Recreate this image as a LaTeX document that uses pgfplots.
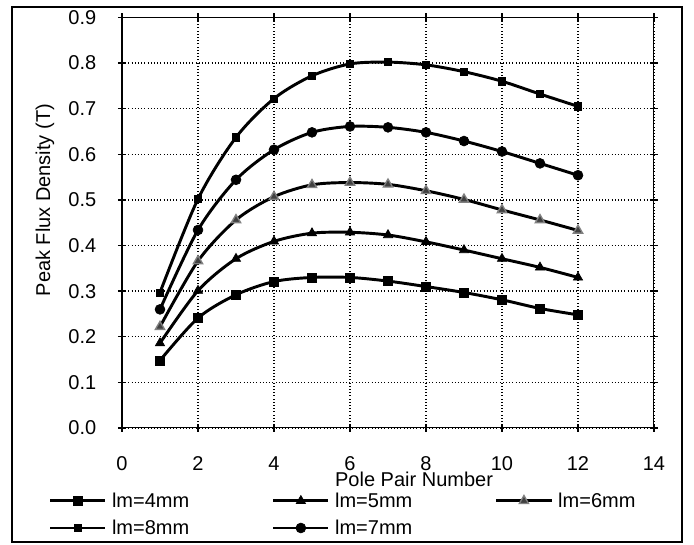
\documentclass[border=0pt]{standalone}
\usepackage{fontspec}
\setmainfont{Liberation Sans}
\usepackage{pgfplots}
\pgfplotsset{compat=1.18}

\begin{document}
\begin{tikzpicture}[font=\fontsize{15}{18}\selectfont]
\useasboundingbox (-91.5pt,-87.75pt) rectangle (429pt,321pt);
\begin{axis}[
    scale only axis,
    width=399pt,
    height=307.95pt,
    xmin=0, xmax=14,
    ymin=0, ymax=0.9,
    xtick={0,2,...,14},
    ytick={0,0.1,...,0.9},
    /pgf/number format/assume math mode=true,
    yticklabel style={xshift=-12.75pt,
        /pgf/number format/fixed,
        /pgf/number format/fixed zerofill,
        /pgf/number format/precision=1},
    xticklabel style={yshift=-15pt},
    tick align=center,
    major tick length=6pt,
    tick style={black, line width=1pt},
    axis line style={line width=0.75pt},
    grid=major,
    major grid style={black, dotted, line width=1.1pt},
    xlabel={Pole Pair Number},
    xlabel style={at={(axis description cs:0.549,-0.1413)}, anchor=base},
    ylabel={Peak Flux Density (T)},
    ylabel style={at={(axis description cs:-0.1447,0.555)}, anchor=center},
    legend columns=3,
    legend cell align=left,
    legend style={
        at={(axis description cs:-0.138,-0.1437)}, anchor=north west,
        draw=none, fill=none, inner sep=0pt,
        nodes={inner sep=4pt},
        /tikz/every even column/.append style={column sep=58pt},
    },
    legend image code/.code={
        \draw[mark repeat=2,mark phase=2,#1]
        plot coordinates {(0pt,0pt) (20.6pt,0pt) (41.2pt,0pt)};
    },
    every axis plot/.append style={black, line width=2.2pt, smooth},
]

\addplot[mark=square*, mark size=3.3pt, mark options={solid, line width=0.5pt}]
coordinates {
    (1,0.148) (2,0.241) (3,0.292) (4,0.321) (5,0.330) (6,0.330)
    (7,0.322) (8,0.310) (9,0.297) (10,0.281) (11,0.262) (12,0.248)
};
\addlegendentry{lm=4mm}

\addplot[mark=triangle*, mark size=4pt, mark options={solid, line width=0.5pt}]
coordinates {
    (1,0.186) (2,0.301) (3,0.371) (4,0.409) (5,0.427) (6,0.429)
    (7,0.423) (8,0.408) (9,0.390) (10,0.371) (11,0.352) (12,0.330)
};
\addlegendentry{lm=5mm}

\addplot[mark=triangle*, mark size=4pt, mark options={solid, draw=gray, fill=black!75, line width=1pt}]
coordinates {
    (1,0.222) (2,0.366) (3,0.456) (4,0.507) (5,0.533) (6,0.538)
    (7,0.534) (8,0.520) (9,0.501) (10,0.478) (11,0.456) (12,0.433)
};
\addlegendentry{lm=6mm}

\addplot[mark=square*, mark size=2.7pt, mark options={solid, line width=0.5pt}]
coordinates {
    (1,0.297) (2,0.502) (3,0.637) (4,0.722) (5,0.772) (6,0.798)
    (7,0.802) (8,0.796) (9,0.781) (10,0.760) (11,0.732) (12,0.705)
};
\addlegendentry{lm=8mm}

\addplot[mark=*, mark size=3.7pt, mark options={solid, line width=0.5pt}]
coordinates {
    (1,0.260) (2,0.434) (3,0.544) (4,0.610) (5,0.648) (6,0.661)
    (7,0.659) (8,0.648) (9,0.629) (10,0.606) (11,0.580) (12,0.554)
};
\addlegendentry{lm=7mm}

% heavier left and bottom axis lines
\draw[line width=1.6pt] (rel axis cs:0,1) -- (rel axis cs:0,0) -- (rel axis cs:1,0);
\end{axis}
% outer chart frame
\draw[line width=1.6pt] (-82.5pt,-85.5pt) rectangle (420pt,315.75pt);
\end{tikzpicture}
\end{document}
